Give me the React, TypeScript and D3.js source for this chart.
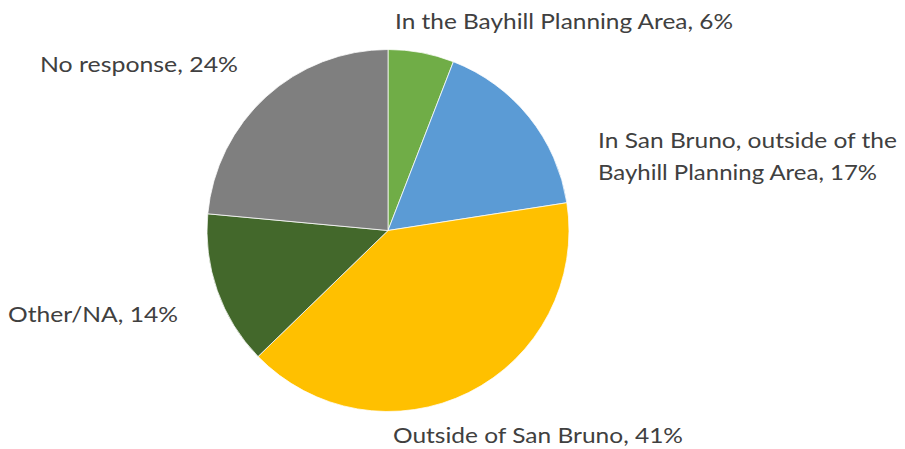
import React from "react";
import * as d3 from "d3";

const categories = [
  "In the Bayhill Planning Area",
  "In San Bruno, outside of the Bayhill Planning Area",
  "Outside of San Bruno",
  "Other/NA",
  "No response",
];
const values = [6, 17, 41, 14, 24];
const colors = ["#70AD47", "#5B9BD5", "#FFC000", "#43682B", "#7F7F7F"];
const labelLines = [
  ["In the Bayhill Planning Area, 6%"],
  ["In San Bruno, outside of the", "Bayhill Planning Area, 17%"],
  ["Outside of San Bruno, 41%"],
  ["Other/NA, 14%"],
  ["No response, 24%"],
];
const labelWidths = [[338], [299, 279], [290], [170], [198]];
const labelPos = [
  { x: 395, y: 29 },
  { x: 598, y: 148 },
  { x: 393, y: 443 },
  { x: 8, y: 322 },
  { x: 40, y: 72 },
];

export default function App() {
  const W = 905;
  const H = 449;
  const cx = 388;
  const cy = 230.5;
  const r = 181;
  const pie = d3.pie<number>().sort(null).value((d) => d);
  const arcs = pie(values);
  const arc = d3.arc<d3.PieArcDatum<number>>().innerRadius(0).outerRadius(r);
  return (
    <svg
      width={W}
      height={H}
      style={{ position: "absolute", left: 0, top: 0, background: "#fff" }}
    >
      <g transform={`translate(${cx},${cy})`}>
        {arcs.map((a, i) => (
          <path
            key={categories[i]}
            d={arc(a) || ""}
            fill={colors[i]}
            stroke="#fff"
            strokeWidth={0.75}
          />
        ))}
      </g>
      {labelLines.map((lines, i) =>
        lines.map((l, j) => (
          <text
            key={`${i}-${j}`}
            x={labelPos[i].x}
            y={labelPos[i].y + j * 32}
            fill="#404040"
            fontFamily="Lato, 'Noto Sans', sans-serif"
            fontSize={22}
            textLength={labelWidths[i][j]}
            lengthAdjust="spacingAndGlyphs"
          >
            {l}
          </text>
        ))
      )}
    </svg>
  );
}
